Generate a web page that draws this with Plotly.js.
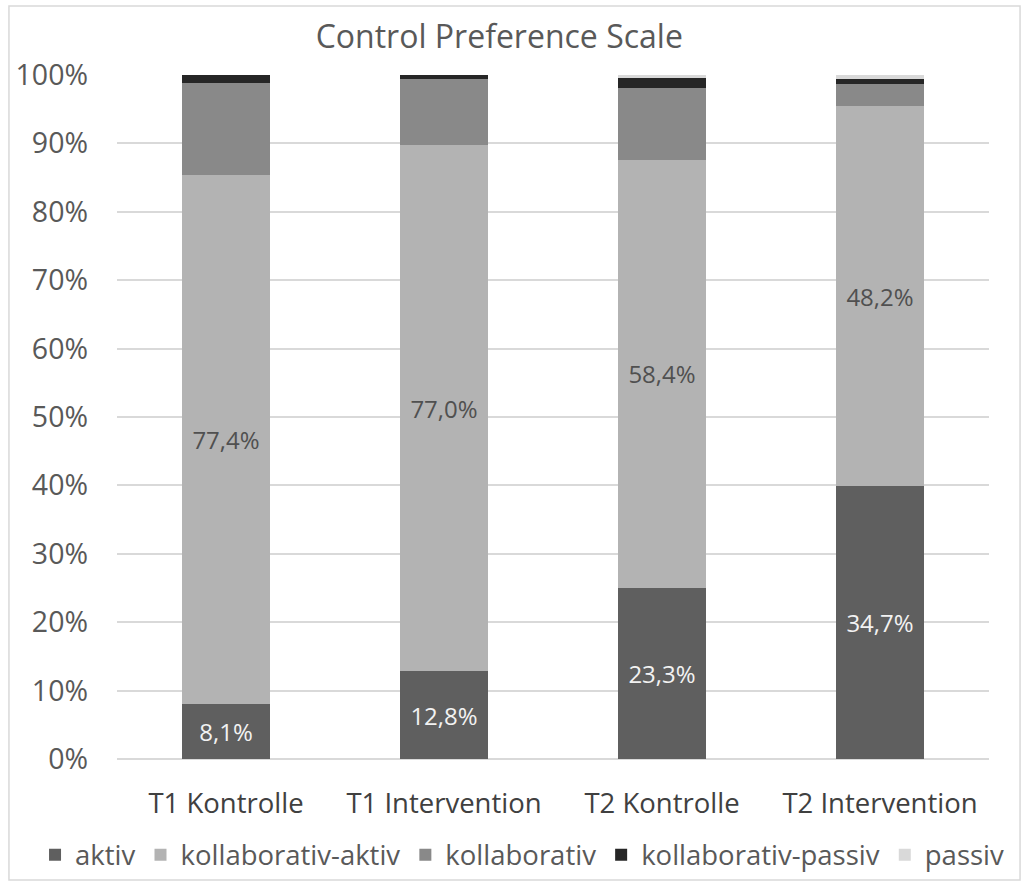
<!DOCTYPE html>
<html>
<head>
<meta charset="utf-8">
<script src="https://cdn.plot.ly/plotly-3.0.1.min.js"></script>
<style>
  html, body { margin: 0; padding: 0; background: #ffffff; }
  #chart { width: 1021px; height: 881px; }
</style>
</head>
<body>
<div id="chart"></div>
<script>
// Groups (x-axis categories)
const groups = ['T1 Kontrolle', 'T1 Intervention', 'T2 Kontrolle', 'T2 Intervention'];

// Share of answers per category (percent of all respondents; missing answers
// make some groups sum to less than 100, the bars are normalised to 100 %)
const aktiv               = [8.1, 12.8, 23.3, 34.7];
const kollaborativAktiv   = [77.4, 77.0, 58.4, 48.2];
const kollaborativ        = [13.5, 9.6, 9.75, 2.87];
const kollaborativPassiv  = [1.1, 0.6, 1.35, 0.61];
const passiv              = [0.0, 0.0, 0.47, 0.52];

const seriesNames = ['aktiv', 'kollaborativ-aktiv', 'kollaborativ', 'kollaborativ-passiv', 'passiv'];
const seriesColors = ['#5f5f5f', '#b3b3b3', '#898989', '#262626', '#d9d9d9'];
const seriesValues = [aktiv, kollaborativAktiv, kollaborativ, kollaborativPassiv, passiv];
// Which series carry value labels, and the colour of those labels
const labelColors = ['#f2f2f2', '#505050', null, null, null];

const FONT = '"Open Sans", "Noto Sans", "DejaVu Sans", sans-serif';

const traces = seriesValues.map((vals, i) => ({
  type: 'bar',
  name: seriesNames[i],
  x: groups,
  y: vals,
  customdata: vals,
  marker: { color: seriesColors[i], line: { width: 0 } },
  texttemplate: labelColors[i] ? '%{customdata:.1f}%' : '',
  textposition: labelColors[i] ? 'inside' : 'none',
  insidetextanchor: 'middle',
  textfont: { family: FONT, size: 24, color: labelColors[i] || '#000' },
  hoverinfo: 'name+y'
}));

const layout = {
  width: 1021,
  height: 881,
  margin: { l: 117, r: 32, t: 75, b: 122, autoexpand: false },
  paper_bgcolor: '#ffffff',
  plot_bgcolor: '#ffffff',
  barmode: 'stack',
  barnorm: 'percent',
  bargap: 0.6,
  separators: ',.',
  font: { family: FONT, color: '#595959' },
  title: {
    text: 'Control Preference Scale',
    font: { family: FONT, size: 32, color: '#595959' },
    xref: 'container', yref: 'container',
    x: 0.489, xanchor: 'center',
    y: 0.958, yanchor: 'middle'
  },
  xaxis: {
    type: 'category',
    showgrid: false,
    showline: false,
    ticks: '',
    ticklabelstandoff: 25,
    tickfont: { family: FONT, size: 27.5, color: '#404040' }
  },
  yaxis: {
    range: [0, 100],
    dtick: 10,
    ticksuffix: '%',
    showgrid: true,
    gridcolor: '#d9d9d9',
    gridwidth: 2,
    zeroline: true,
    zerolinecolor: '#d9d9d9',
    zerolinewidth: 2,
    showline: false,
    ticks: '',
    ticklabelstandoff: 28,
    tickfont: { family: FONT, size: 28.5, color: '#595959' },
    fixedrange: true
  },
  showlegend: true,
  legend: {
    orientation: 'h',
    x: -0.094, xanchor: 'left',
    y: -0.14, yanchor: 'middle',
    traceorder: 'normal',
    bgcolor: 'rgba(0,0,0,0)',
    font: { family: FONT, size: 27.5, color: '#595959' },
    itemclick: false,
    itemdoubleclick: false
  },
  shapes: [{
    // chart area frame
    type: 'rect', xref: 'paper', yref: 'paper',
    x0: -0.1239, x1: 1.0356, y0: -0.177, y1: 1.1009,
    line: { color: '#d9d9d9', width: 1.5 },
    fillcolor: 'rgba(0,0,0,0)',
    layer: 'below'
  }]
};

Plotly.newPlot('chart', traces, layout, { displayModeBar: false, staticPlot: true });
</script>
</body>
</html>
